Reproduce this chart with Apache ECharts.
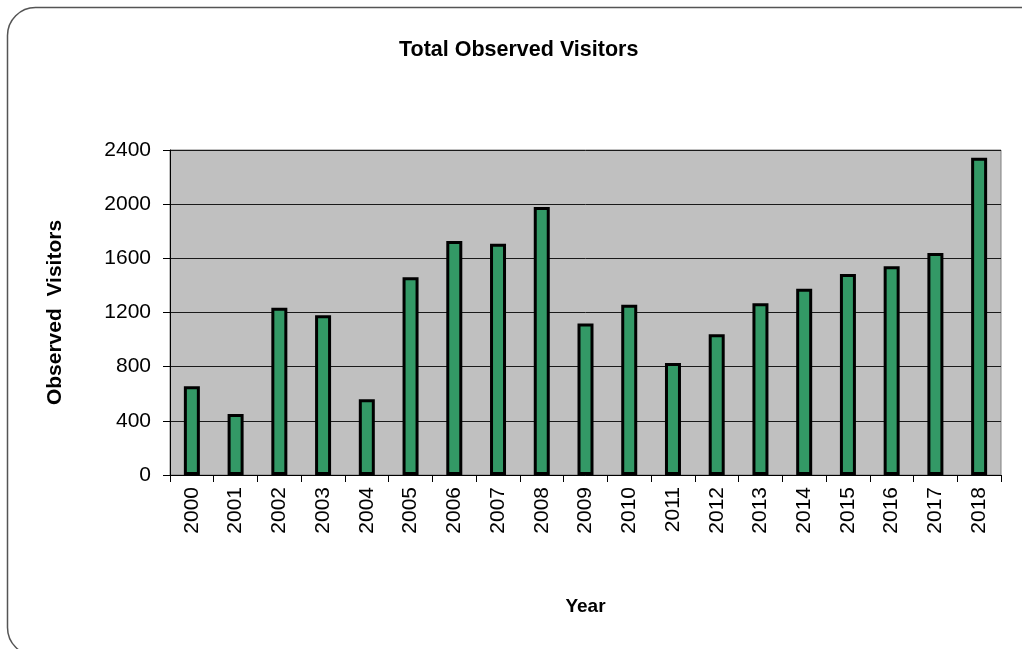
<!DOCTYPE html>
<html>
<head>
<meta charset="utf-8">
<script src="https://cdn.jsdelivr.net/npm/echarts@6/dist/echarts.min.js"></script>
<style>
  html, body { margin: 0; padding: 0; background: #ffffff; }
  #chart { width: 1022px; height: 649px; }
</style>
</head>
<body>
<div id="chart"></div>
<script>
// Yearly totals of observed visitors
const years = ['2000', '2001', '2002', '2003', '2004', '2005', '2006', '2007', '2008', '2009',
               '2010', '2011', '2012', '2013', '2014', '2015', '2016', '2017', '2018'];
const visitors = [655, 450, 1235, 1180, 560, 1460, 1728, 1708, 1980, 1118,
                  1258, 827, 1039, 1268, 1376, 1484, 1541, 1639, 2343];
const yTicks = { min: 0, max: 2400, interval: 400 };

const FONT = '"Liberation Sans", Arial, sans-serif';

const chart = echarts.init(document.getElementById('chart'), null, { renderer: 'canvas' });

chart.setOption({
  backgroundColor: '#ffffff',
  animation: false,
  title: {
    text: 'Total Observed Visitors',
    left: 394,
    top: 34,
    textStyle: { fontFamily: FONT, fontSize: 21.5, fontWeight: 'bold', color: '#000' }
  },
  graphic: [{
    type: 'rect',
    shape: { x: 7.5, y: 7.5, width: 1040, height: 648, r: 28 },
    style: { fill: 'none', stroke: '#555555', lineWidth: 1.5 },
    silent: true,
    z: -1
  }],
  grid: {
    left: 170,
    right: 21,
    top: 150,
    bottom: 174,
    show: true,
    backgroundColor: '#c0c0c0',
    borderColor: '#808080',
    borderWidth: 1
  },
  xAxis: {
    type: 'category',
    data: years,
    boundaryGap: true,
    name: 'Year',
    nameLocation: 'middle',
    nameGap: 122,
    nameTextStyle: { fontFamily: FONT, fontSize: 19, fontWeight: 'bold', color: '#000' },
    axisLine: { show: true, lineStyle: { color: '#000', width: 1 } },
    axisTick: { show: true, alignWithLabel: false, length: 7, lineStyle: { color: '#000' } },
    axisLabel: {
      rotate: 90,
      margin: 12,
      fontFamily: FONT,
      fontSize: 21,
      color: '#000',
      interval: 0
    },
    splitLine: { show: false }
  },
  yAxis: {
    type: 'value',
    min: yTicks.min,
    max: yTicks.max,
    interval: yTicks.interval,
    name: 'Observed  Visitors',
    nameLocation: 'middle',
    nameGap: 104,
    nameTextStyle: { fontFamily: FONT, fontSize: 21, fontWeight: 'bold', color: '#000' },
    axisLine: { show: true, lineStyle: { color: '#000', width: 1 } },
    axisTick: { show: true, inside: false, length: 7, lineStyle: { color: '#000' } },
    axisLabel: {
      margin: 19,
      fontFamily: FONT,
      fontSize: 21,
      color: '#000',
      formatter: v => String(v)
    },
    splitLine: { show: true, lineStyle: { color: '#1a1a1a', width: 1 } }
  },
  series: [{
    type: 'bar',
    data: visitors,
    barWidth: 16,
    itemStyle: { color: '#339966', borderColor: '#000000', borderWidth: 3 }
  }]
});
</script>
</body>
</html>
